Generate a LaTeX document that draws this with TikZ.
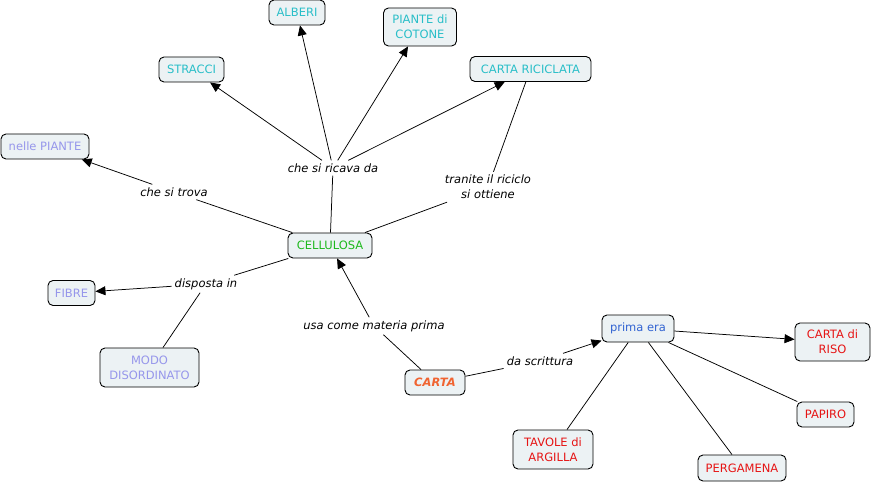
\documentclass[tikz,border=0pt]{standalone}
\usepackage{fontspec}
\setmainfont{DejaVu Sans}
\usetikzlibrary{arrows.meta}
\definecolor{boxfill}{RGB}{236,242,244}
\definecolor{cteal}{RGB}{40,190,200}
\definecolor{clav}{RGB}{150,150,235}
\definecolor{cgreen}{RGB}{30,185,30}
\definecolor{corange}{RGB}{240,100,50}
\definecolor{cblue}{RGB}{50,100,210}
\definecolor{cred}{RGB}{230,20,20}
\tikzset{
  concept/.style={draw=black, line width=0.9pt, rounded corners=5pt, fill=boxfill,
    align=center, inner sep=2pt, font=\fontsize{11.5}{15}\selectfont, minimum height=25pt},
  lbl/.style={align=center, inner sep=3pt, font=\fontsize{11.5}{15}\selectfont\itshape},
  link/.style={line width=0.75pt, black},
  arr/.style={link, -{Triangle[length=10pt,width=9pt]}}
}
\begin{document}
\begin{tikzpicture}[x=1pt,y=-1pt]
\useasboundingbox (0,0) rectangle (873,484);
% concepts
\node[concept, text=cteal, minimum width=56pt] (alberi) at (297,12.5) {ALBERI};
\node[concept, text=cteal, minimum width=73pt, minimum height=38pt] (cotone) at (420,27) {PIANTE di\\COTONE};
\node[concept, text=cteal, minimum width=65pt] (stracci) at (191.5,69.5) {STRACCI};
\node[concept, text=cteal, minimum width=121pt] (riciclata) at (530.5,69) {CARTA RICICLATA};
\node[concept, text=clav, minimum width=88pt] (piante) at (45,146.5) {nelle PIANTE};
\node[concept, text=cgreen, minimum width=84pt] (cellulosa) at (330,245.5) {CELLULOSA};
\node[concept, text=clav, minimum width=47pt] (fibre) at (71.5,293) {FIBRE};
\node[concept, text=clav, minimum width=99pt, minimum height=39pt] (modo) at (149.5,367.5) {MODO\\DISORDINATO};
\node[concept, text=corange, minimum width=60pt, font=\fontsize{11.5}{15}\selectfont\bfseries\itshape] (carta) at (435,382.5) {CARTA};
\node[concept, text=cblue, minimum width=72pt, minimum height=27pt] (prima) at (638,328.5) {prima era};
\node[concept, text=cred, minimum width=75pt, minimum height=38pt] (riso) at (832.5,342) {CARTA di\\RISO};
\node[concept, text=cred, minimum width=57pt] (papiro) at (825.5,414.5) {PAPIRO};
\node[concept, text=cred, minimum width=80pt, minimum height=39pt] (tavole) at (553,449.5) {TAVOLE di\\ARGILLA};
\node[concept, text=cred, minimum width=88pt, minimum height=26pt] (pergamena) at (742,468) {PERGAMENA};
% labels
\node[lbl] (ricava) at (333,168) {che si ricava da};
\node[lbl] (trova) at (174,192) {che si trova};
\node[lbl] (tranite) at (488,187) {tranite il riciclo\\si ottiene};
\node[lbl] (disposta) at (206,284) {disposta in};
\node[lbl] (materia) at (374,326) {usa come materia prima};
\node[lbl] (scrittura) at (540,361) {da scrittura};
% connectors
\draw[link] (cellulosa) -- (ricava);
\draw[arr] (ricava) -- (stracci);
\draw[arr] (ricava) -- (alberi);
\draw[arr] (ricava) -- (cotone);
\draw[arr] (ricava) -- (riciclata);
\draw[link] (riciclata) -- (tranite);
\draw[link] (tranite) -- (cellulosa);
\draw[link] (cellulosa) -- (trova);
\draw[arr] (trova) -- (piante);
\draw[link] (cellulosa) -- (disposta);
\draw[arr] (disposta) -- (fibre);
\draw[link] (modo) -- (disposta);
\draw[link] (carta) -- (materia);
\draw[arr] (materia) -- (cellulosa);
\draw[link] (carta) -- (scrittura);
\draw[arr] (scrittura) -- (prima);
\draw[arr] (prima) -- (riso);
\draw[link] (prima) -- (papiro);
\draw[link] (prima) -- (pergamena);
\draw[link] (prima) -- (tavole);
\end{tikzpicture}
\end{document}
